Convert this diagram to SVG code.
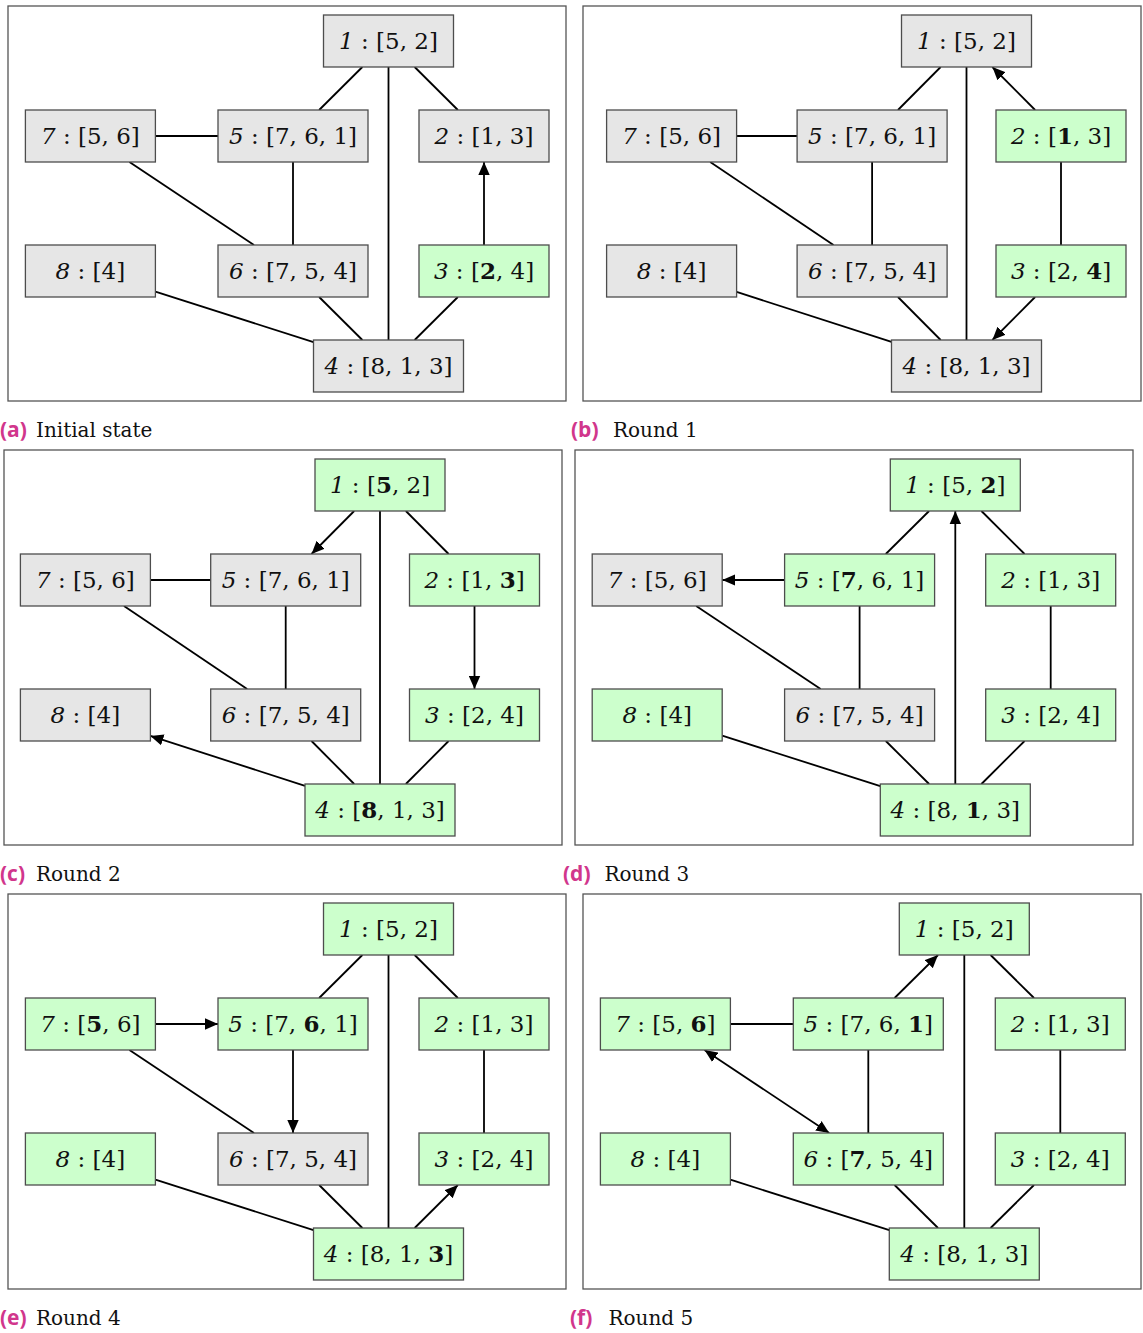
<svg xmlns="http://www.w3.org/2000/svg" width="1143" height="1333" viewBox="0 0 1143 1333">
  <defs>
    <style>
      .frame { fill: none; stroke: #555555; stroke-width: 1.3; }
      .box { stroke: #4d4d4d; stroke-width: 1.3; }
      .gray { fill: #e6e6e6; }
      .green { fill: #ccffcc; }
      .lbl { font-family: "DejaVu Serif", "Liberation Serif", serif; font-size: 23px; fill: #111111; text-anchor: middle; }
      .id { font-style: italic; }
      .b { font-weight: bold; }
      .e { stroke: #000000; stroke-width: 1.8; fill: none; }
      .arr { marker-end: url(#tip); }
      .both { marker-start: url(#tip); marker-end: url(#tip); }
      .tag { font-family: "Open Sans", "DejaVu Sans", sans-serif; font-weight: bold; font-size: 21px; fill: #d1368c; }
      .cap { font-family: "DejaVu Serif", "Liberation Serif", serif; font-size: 20px; fill: #111111; }
    </style>
    <marker id="tip" viewBox="0 0 13 12" refX="13" refY="6" markerWidth="13" markerHeight="12" markerUnits="userSpaceOnUse" orient="auto-start-reverse">
      <path d="M0,0.3 L13,6 L0,11.7 z" fill="#000000"/>
    </marker>
  </defs>

  <rect width="1143" height="1333" fill="#ffffff"/>

  <!-- (a) Initial state -->
  <g id="panel-a">
    <rect class="frame" x="8" y="6" width="558" height="395"/>
    <g id="a-edges">
      <line class="e" x1="362.36" y1="67" x2="319.14" y2="110"/>
      <line class="e" x1="388.5" y1="67" x2="388.5" y2="340"/>
      <line class="e" x1="414.64" y1="67" x2="457.86" y2="110"/>
      <line class="e" x1="155.4" y1="136" x2="218" y2="136"/>
      <line class="e" x1="129.42" y1="162" x2="253.98" y2="245"/>
      <line class="e" x1="293" y1="162" x2="293" y2="245"/>
      <line class="e arr" x1="484" y1="245" x2="484" y2="162"/>
      <line class="e" x1="155.4" y1="291.71" x2="313.5" y2="342.1"/>
      <line class="e" x1="319.14" y1="297" x2="362.36" y2="340"/>
      <line class="e" x1="457.86" y1="297" x2="414.64" y2="340"/>
    </g>
    <g id="a-n1"><rect class="box gray" x="323.5" y="15" width="130" height="52"/><text class="lbl" x="388.5" y="49"><tspan class="id">1</tspan> : [5, 2]</text></g>
    <g id="a-n7"><rect class="box gray" x="25.4" y="110" width="130" height="52"/><text class="lbl" x="90.4" y="144"><tspan class="id">7</tspan> : [5, 6]</text></g>
    <g id="a-n5"><rect class="box gray" x="218" y="110" width="150" height="52"/><text class="lbl" x="293" y="144"><tspan class="id">5</tspan> : [7, 6, 1]</text></g>
    <g id="a-n2"><rect class="box gray" x="419" y="110" width="130" height="52"/><text class="lbl" x="484" y="144"><tspan class="id">2</tspan> : [1, 3]</text></g>
    <g id="a-n8"><rect class="box gray" x="25.4" y="245" width="130" height="52"/><text class="lbl" x="90.4" y="279"><tspan class="id">8</tspan> : [4]</text></g>
    <g id="a-n6"><rect class="box gray" x="218" y="245" width="150" height="52"/><text class="lbl" x="293" y="279"><tspan class="id">6</tspan> : [7, 5, 4]</text></g>
    <g id="a-n3"><rect class="box green" x="419" y="245" width="130" height="52"/><text class="lbl" x="484" y="279"><tspan class="id">3</tspan> : [<tspan class="b">2</tspan>, 4]</text></g>
    <g id="a-n4"><rect class="box gray" x="313.5" y="340" width="150" height="52"/><text class="lbl" x="388.5" y="374"><tspan class="id">4</tspan> : [8, 1, 3]</text></g>
    <text class="tag" x="0" y="437">(a)</text>
    <text class="cap" x="36" y="437">Initial state</text>
  </g>

  <!-- (b) Round 1 -->
  <g id="panel-b">
    <rect class="frame" x="583" y="6" width="558" height="395"/>
    <g id="b-edges">
      <line class="e" x1="940.66" y1="67" x2="897.94" y2="110"/>
      <line class="e" x1="966.5" y1="67" x2="966.5" y2="340"/>
      <line class="e arr" x1="1035.14" y1="110" x2="992.36" y2="67"/>
      <line class="e" x1="736.6" y1="136" x2="797.1" y2="136"/>
      <line class="e" x1="710.21" y1="162" x2="833.49" y2="245"/>
      <line class="e" x1="872.1" y1="162" x2="872.1" y2="245"/>
      <line class="e" x1="1061" y1="162" x2="1061" y2="245"/>
      <line class="e" x1="736.6" y1="291.94" x2="891.5" y2="341.84"/>
      <line class="e" x1="897.94" y1="297" x2="940.66" y2="340"/>
      <line class="e arr" x1="1035.14" y1="297" x2="992.36" y2="340"/>
    </g>
    <g id="b-n1"><rect class="box gray" x="901.5" y="15" width="130" height="52"/><text class="lbl" x="966.5" y="49"><tspan class="id">1</tspan> : [5, 2]</text></g>
    <g id="b-n7"><rect class="box gray" x="606.6" y="110" width="130" height="52"/><text class="lbl" x="671.6" y="144"><tspan class="id">7</tspan> : [5, 6]</text></g>
    <g id="b-n5"><rect class="box gray" x="797.1" y="110" width="150" height="52"/><text class="lbl" x="872.1" y="144"><tspan class="id">5</tspan> : [7, 6, 1]</text></g>
    <g id="b-n2"><rect class="box green" x="996" y="110" width="130" height="52"/><text class="lbl" x="1061" y="144"><tspan class="id">2</tspan> : [<tspan class="b">1</tspan>, 3]</text></g>
    <g id="b-n8"><rect class="box gray" x="606.6" y="245" width="130" height="52"/><text class="lbl" x="671.6" y="279"><tspan class="id">8</tspan> : [4]</text></g>
    <g id="b-n6"><rect class="box gray" x="797.1" y="245" width="150" height="52"/><text class="lbl" x="872.1" y="279"><tspan class="id">6</tspan> : [7, 5, 4]</text></g>
    <g id="b-n3"><rect class="box green" x="996" y="245" width="130" height="52"/><text class="lbl" x="1061" y="279"><tspan class="id">3</tspan> : [2, <tspan class="b">4</tspan>]</text></g>
    <g id="b-n4"><rect class="box gray" x="891.5" y="340" width="150" height="52"/><text class="lbl" x="966.5" y="374"><tspan class="id">4</tspan> : [8, 1, 3]</text></g>
    <text class="tag" x="571" y="437">(b)</text>
    <text class="cap" x="613" y="437">Round 1</text>
  </g>

  <!-- (c) Round 2 -->
  <g id="panel-c">
    <rect class="frame" x="4" y="450" width="558" height="395"/>
    <g id="c-edges">
      <line class="e arr" x1="354.19" y1="511" x2="311.51" y2="554"/>
      <line class="e" x1="380" y1="511" x2="380" y2="784"/>
      <line class="e" x1="405.86" y1="511" x2="448.64" y2="554"/>
      <line class="e" x1="150.4" y1="580" x2="210.7" y2="580"/>
      <line class="e" x1="123.98" y1="606" x2="247.12" y2="689"/>
      <line class="e" x1="285.7" y1="606" x2="285.7" y2="689"/>
      <line class="e arr" x1="474.5" y1="606" x2="474.5" y2="689"/>
      <line class="e arr" x1="305" y1="785.81" x2="150.4" y2="735.96"/>
      <line class="e" x1="311.51" y1="741" x2="354.19" y2="784"/>
      <line class="e" x1="448.64" y1="741" x2="405.86" y2="784"/>
    </g>
    <g id="c-n1"><rect class="box green" x="315" y="459" width="130" height="52"/><text class="lbl" x="380" y="493"><tspan class="id">1</tspan> : [<tspan class="b">5</tspan>, 2]</text></g>
    <g id="c-n7"><rect class="box gray" x="20.4" y="554" width="130" height="52"/><text class="lbl" x="85.4" y="588"><tspan class="id">7</tspan> : [5, 6]</text></g>
    <g id="c-n5"><rect class="box gray" x="210.7" y="554" width="150" height="52"/><text class="lbl" x="285.7" y="588"><tspan class="id">5</tspan> : [7, 6, 1]</text></g>
    <g id="c-n2"><rect class="box green" x="409.5" y="554" width="130" height="52"/><text class="lbl" x="474.5" y="588"><tspan class="id">2</tspan> : [1, <tspan class="b">3</tspan>]</text></g>
    <g id="c-n8"><rect class="box gray" x="20.4" y="689" width="130" height="52"/><text class="lbl" x="85.4" y="723"><tspan class="id">8</tspan> : [4]</text></g>
    <g id="c-n6"><rect class="box gray" x="210.7" y="689" width="150" height="52"/><text class="lbl" x="285.7" y="723"><tspan class="id">6</tspan> : [7, 5, 4]</text></g>
    <g id="c-n3"><rect class="box green" x="409.5" y="689" width="130" height="52"/><text class="lbl" x="474.5" y="723"><tspan class="id">3</tspan> : [2, 4]</text></g>
    <g id="c-n4"><rect class="box green" x="305" y="784" width="150" height="52"/><text class="lbl" x="380" y="818"><tspan class="id">4</tspan> : [<tspan class="b">8</tspan>, 1, 3]</text></g>
    <text class="tag" x="0" y="881">(c)</text>
    <text class="cap" x="36" y="881">Round 2</text>
  </g>

  <!-- (d) Round 3 -->
  <g id="panel-d">
    <rect class="frame" x="575" y="450" width="558" height="395"/>
    <g id="d-edges">
      <line class="e" x1="929.11" y1="511" x2="885.79" y2="554"/>
      <line class="e arr" x1="955.3" y1="784" x2="955.3" y2="511"/>
      <line class="e" x1="981.41" y1="511" x2="1024.59" y2="554"/>
      <line class="e arr" x1="784.6" y1="580" x2="722.2" y2="580"/>
      <line class="e" x1="696.18" y1="606" x2="820.62" y2="689"/>
      <line class="e" x1="859.6" y1="606" x2="859.6" y2="689"/>
      <line class="e" x1="1050.7" y1="606" x2="1050.7" y2="689"/>
      <line class="e" x1="722.2" y1="735.71" x2="880.3" y2="786.1"/>
      <line class="e" x1="885.79" y1="741" x2="929.11" y2="784"/>
      <line class="e" x1="1024.59" y1="741" x2="981.41" y2="784"/>
    </g>
    <g id="d-n1"><rect class="box green" x="890.3" y="459" width="130" height="52"/><text class="lbl" x="955.3" y="493"><tspan class="id">1</tspan> : [5, <tspan class="b">2</tspan>]</text></g>
    <g id="d-n7"><rect class="box gray" x="592.2" y="554" width="130" height="52"/><text class="lbl" x="657.2" y="588"><tspan class="id">7</tspan> : [5, 6]</text></g>
    <g id="d-n5"><rect class="box green" x="784.6" y="554" width="150" height="52"/><text class="lbl" x="859.6" y="588"><tspan class="id">5</tspan> : [<tspan class="b">7</tspan>, 6, 1]</text></g>
    <g id="d-n2"><rect class="box green" x="985.7" y="554" width="130" height="52"/><text class="lbl" x="1050.7" y="588"><tspan class="id">2</tspan> : [1, 3]</text></g>
    <g id="d-n8"><rect class="box green" x="592.2" y="689" width="130" height="52"/><text class="lbl" x="657.2" y="723"><tspan class="id">8</tspan> : [4]</text></g>
    <g id="d-n6"><rect class="box gray" x="784.6" y="689" width="150" height="52"/><text class="lbl" x="859.6" y="723"><tspan class="id">6</tspan> : [7, 5, 4]</text></g>
    <g id="d-n3"><rect class="box green" x="985.7" y="689" width="130" height="52"/><text class="lbl" x="1050.7" y="723"><tspan class="id">3</tspan> : [2, 4]</text></g>
    <g id="d-n4"><rect class="box green" x="880.3" y="784" width="150" height="52"/><text class="lbl" x="955.3" y="818"><tspan class="id">4</tspan> : [8, <tspan class="b">1</tspan>, 3]</text></g>
    <text class="tag" x="563" y="881">(d)</text>
    <text class="cap" x="604.5" y="881">Round 3</text>
  </g>

  <!-- (e) Round 4 -->
  <g id="panel-e">
    <rect class="frame" x="8" y="894" width="558" height="395"/>
    <g id="e-edges">
      <line class="e" x1="362.36" y1="955" x2="319.14" y2="998"/>
      <line class="e" x1="388.5" y1="955" x2="388.5" y2="1228"/>
      <line class="e" x1="414.64" y1="955" x2="457.86" y2="998"/>
      <line class="e arr" x1="155.4" y1="1024" x2="218" y2="1024"/>
      <line class="e" x1="129.42" y1="1050" x2="253.98" y2="1133"/>
      <line class="e arr" x1="293" y1="1050" x2="293" y2="1133"/>
      <line class="e" x1="484" y1="1050" x2="484" y2="1133"/>
      <line class="e" x1="155.4" y1="1179.71" x2="313.5" y2="1230.1"/>
      <line class="e" x1="319.14" y1="1185" x2="362.36" y2="1228"/>
      <line class="e arr" x1="414.64" y1="1228" x2="457.86" y2="1185"/>
    </g>
    <g id="e-n1"><rect class="box green" x="323.5" y="903" width="130" height="52"/><text class="lbl" x="388.5" y="937"><tspan class="id">1</tspan> : [5, 2]</text></g>
    <g id="e-n7"><rect class="box green" x="25.4" y="998" width="130" height="52"/><text class="lbl" x="90.4" y="1032"><tspan class="id">7</tspan> : [<tspan class="b">5</tspan>, 6]</text></g>
    <g id="e-n5"><rect class="box green" x="218" y="998" width="150" height="52"/><text class="lbl" x="293" y="1032"><tspan class="id">5</tspan> : [7, <tspan class="b">6</tspan>, 1]</text></g>
    <g id="e-n2"><rect class="box green" x="419" y="998" width="130" height="52"/><text class="lbl" x="484" y="1032"><tspan class="id">2</tspan> : [1, 3]</text></g>
    <g id="e-n8"><rect class="box green" x="25.4" y="1133" width="130" height="52"/><text class="lbl" x="90.4" y="1167"><tspan class="id">8</tspan> : [4]</text></g>
    <g id="e-n6"><rect class="box gray" x="218" y="1133" width="150" height="52"/><text class="lbl" x="293" y="1167"><tspan class="id">6</tspan> : [7, 5, 4]</text></g>
    <g id="e-n3"><rect class="box green" x="419" y="1133" width="130" height="52"/><text class="lbl" x="484" y="1167"><tspan class="id">3</tspan> : [2, 4]</text></g>
    <g id="e-n4"><rect class="box green" x="313.5" y="1228" width="150" height="52"/><text class="lbl" x="388.5" y="1262"><tspan class="id">4</tspan> : [8, 1, <tspan class="b">3</tspan>]</text></g>
    <text class="tag" x="0" y="1325">(e)</text>
    <text class="cap" x="36" y="1325">Round 4</text>
  </g>

  <!-- (f) Round 5 -->
  <g id="panel-f">
    <rect class="frame" x="583" y="894" width="558" height="395"/>
    <g id="f-edges">
      <line class="e arr" x1="894.57" y1="998" x2="938.03" y2="955"/>
      <line class="e" x1="964.3" y1="955" x2="964.3" y2="1228"/>
      <line class="e" x1="990.57" y1="955" x2="1034.03" y2="998"/>
      <line class="e" x1="730.4" y1="1024" x2="793.3" y2="1024"/>
      <line class="e both" x1="704.48" y1="1050" x2="829.22" y2="1133"/>
      <line class="e" x1="868.3" y1="1050" x2="868.3" y2="1133"/>
      <line class="e" x1="1060.3" y1="1050" x2="1060.3" y2="1133"/>
      <line class="e" x1="730.4" y1="1179.66" x2="889.3" y2="1230.16"/>
      <line class="e" x1="894.57" y1="1185" x2="938.03" y2="1228"/>
      <line class="e" x1="1034.03" y1="1185" x2="990.57" y2="1228"/>
    </g>
    <g id="f-n1"><rect class="box green" x="899.3" y="903" width="130" height="52"/><text class="lbl" x="964.3" y="937"><tspan class="id">1</tspan> : [5, 2]</text></g>
    <g id="f-n7"><rect class="box green" x="600.4" y="998" width="130" height="52"/><text class="lbl" x="665.4" y="1032"><tspan class="id">7</tspan> : [5, <tspan class="b">6</tspan>]</text></g>
    <g id="f-n5"><rect class="box green" x="793.3" y="998" width="150" height="52"/><text class="lbl" x="868.3" y="1032"><tspan class="id">5</tspan> : [7, 6, <tspan class="b">1</tspan>]</text></g>
    <g id="f-n2"><rect class="box green" x="995.3" y="998" width="130" height="52"/><text class="lbl" x="1060.3" y="1032"><tspan class="id">2</tspan> : [1, 3]</text></g>
    <g id="f-n8"><rect class="box green" x="600.4" y="1133" width="130" height="52"/><text class="lbl" x="665.4" y="1167"><tspan class="id">8</tspan> : [4]</text></g>
    <g id="f-n6"><rect class="box green" x="793.3" y="1133" width="150" height="52"/><text class="lbl" x="868.3" y="1167"><tspan class="id">6</tspan> : [<tspan class="b">7</tspan>, 5, 4]</text></g>
    <g id="f-n3"><rect class="box green" x="995.3" y="1133" width="130" height="52"/><text class="lbl" x="1060.3" y="1167"><tspan class="id">3</tspan> : [2, 4]</text></g>
    <g id="f-n4"><rect class="box green" x="889.3" y="1228" width="150" height="52"/><text class="lbl" x="964.3" y="1262"><tspan class="id">4</tspan> : [8, 1, 3]</text></g>
    <text class="tag" x="570" y="1325">(f)</text>
    <text class="cap" x="608.5" y="1325">Round 5</text>
  </g>
</svg>
